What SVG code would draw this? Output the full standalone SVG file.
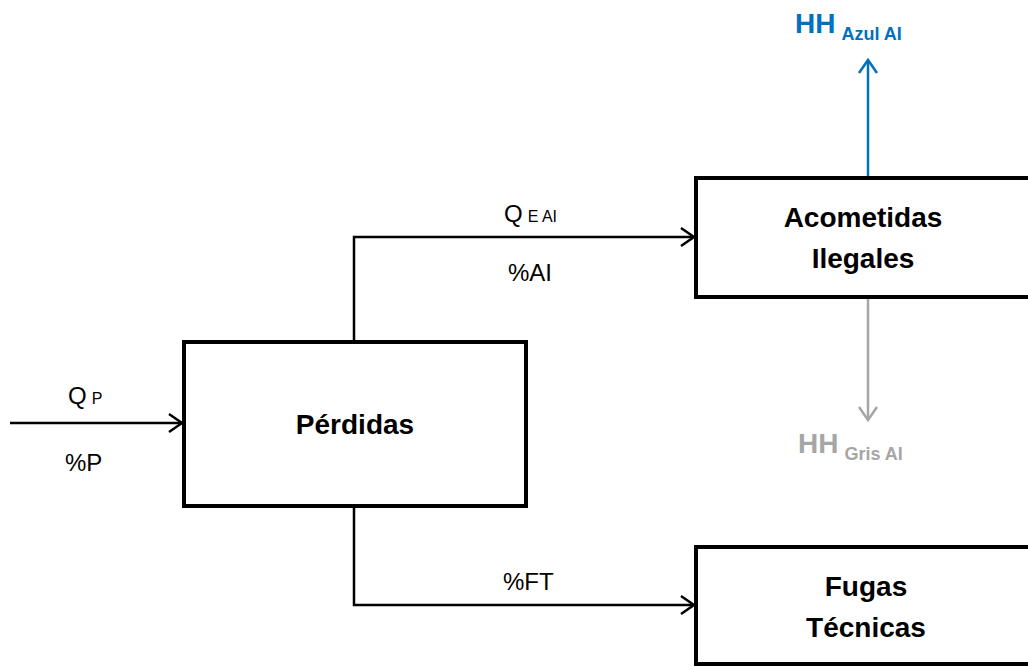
<svg xmlns="http://www.w3.org/2000/svg" width="1028" height="667" viewBox="0 0 1028 667">
<style>
.box{fill:#fff;stroke:#000;stroke-width:4}
.lbl{font-family:"Liberation Sans",Arial,sans-serif;font-size:24px;fill:#000}
.sub{font-size:16px}
.title{font-family:"Liberation Sans",Arial,sans-serif;font-size:28px;font-weight:bold;fill:#000;text-anchor:middle}
.hh{font-family:"Liberation Sans",Arial,sans-serif;font-weight:bold;font-size:28px}
.hhs{font-size:18px}
.c{fill:none;stroke:#000;stroke-width:2.5}
</style>
<defs>
<marker id="ak" markerWidth="20" markerHeight="22" refX="16" refY="11" orient="auto" markerUnits="userSpaceOnUse">
<path d="M3,2 L16,11 L3,20" fill="none" stroke="#000" stroke-width="2.5"/>
</marker>
<marker id="ab" markerWidth="20" markerHeight="22" refX="16" refY="11" orient="auto" markerUnits="userSpaceOnUse">
<path d="M3,2 L16,11 L3,20" fill="none" stroke="#0070C0" stroke-width="2.5"/>
</marker>
<marker id="ag" markerWidth="20" markerHeight="22" refX="16" refY="11" orient="auto" markerUnits="userSpaceOnUse">
<path d="M3,2 L16,11 L3,20" fill="none" stroke="#A6A6A6" stroke-width="2.5"/>
</marker>
</defs>
<rect width="1028" height="667" fill="#fff"/>
<g id="connectors">
<path class="c" d="M10,423 L182,423" marker-end="url(#ak)"/>
<path class="c" d="M354,341 L354,237 L694,237" marker-end="url(#ak)"/>
<path class="c" d="M354,507 L354,605 L694,605" marker-end="url(#ak)"/>
<path d="M868,177 L868,60" fill="none" stroke="#0070C0" stroke-width="2.5" marker-end="url(#ab)"/>
<path d="M868,299 L868,420" fill="none" stroke="#A6A6A6" stroke-width="2.5" marker-end="url(#ag)"/>
</g>
<g id="labels">
<text class="lbl" x="68" y="404">Q<tspan class="sub" dx="5">P</tspan></text>
<text class="lbl" x="65" y="471">%P</text>
<text class="lbl" x="504" y="222">Q<tspan class="sub" dx="5">E AI</tspan></text>
<text class="lbl" x="508" y="281">%AI</text>
<text class="lbl" x="503" y="590">%FT</text>
<text class="hh" x="795" y="33" fill="#0070C0">HH<tspan class="hhs" dx="6" dy="7">Azul AI</tspan></text>
<text class="hh" x="798" y="453" fill="#A6A6A6">HH<tspan class="hhs" dx="6" dy="7">Gris AI</tspan></text>
</g>
<g id="perdidas">
<rect class="box" x="184" y="342" width="342" height="164"/>
<text class="title" x="355" y="434">Pérdidas</text>
</g>
<g id="acometidas">
<rect class="box" x="696" y="178" width="336" height="119"/>
<text class="title" x="863" y="227">Acometidas</text>
<text class="title" x="863" y="268">Ilegales</text>
</g>
<g id="fugas">
<rect class="box" x="696" y="547" width="336" height="117"/>
<text class="title" x="866" y="596">Fugas</text>
<text class="title" x="866" y="637">Técnicas</text>
</g>
</svg>
